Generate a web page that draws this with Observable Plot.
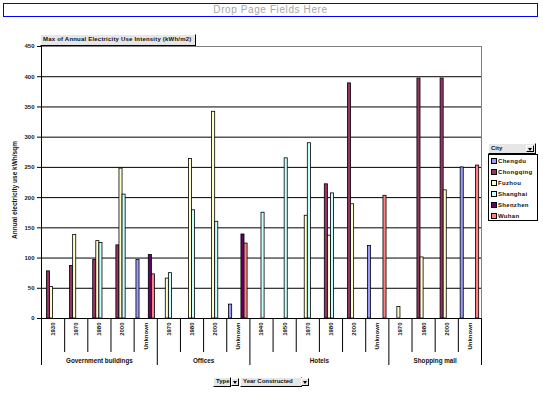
<!DOCTYPE html>
<html>
<head>
<meta charset="utf-8">
<script src="https://cdn.jsdelivr.net/npm/d3@7"></script>
<script src="https://cdn.jsdelivr.net/npm/@observablehq/plot@0.6"></script>
<style>
  html, body { margin: 0; padding: 0; background: #fff; }
  #wrap { position: relative; width: 543px; height: 394px; overflow: hidden; font-family: "Liberation Sans", Arial, sans-serif; }
  #wrap svg { position: absolute; left: 0; top: 0; }
  .abs { position: absolute; box-sizing: border-box; }
  .pagefields { left: 3px; top: 3px; width: 535px; height: 14px; border: 1.5px solid #0000ff; color: #a6a6a6; font-size: 10px; letter-spacing: 0.6px; text-align: center; line-height: 11px; }
  .btn { background: #e6e6e6; border-top: 1px solid #fff; border-left: 1px solid #fff; border-right: 1.5px solid #000; border-bottom: 1.5px solid #000; font-size: 6px; font-weight: bold; color: #111; white-space: nowrap; overflow: hidden; padding-left: 2px; }
  .drop { background: #e6e6e6; border-top: 1px solid #fff; border-left: 1px solid #fff; border-right: 1px solid #000; border-bottom: 1px solid #000; }
  .drop::after { content: ""; position: absolute; left: 50%; top: 50%; margin-left: -2.5px; margin-top: -1px; border-left: 2.5px solid transparent; border-right: 2.5px solid transparent; border-top: 3px solid #000; }
  .legend { left: 488px; top: 154px; width: 50px; height: 67px; border: 1px solid #000; background: #fff; }
  .item { position: absolute; left: 2px; font-size: 6px; font-weight: bold; color: #111; white-space: nowrap; line-height: 7px; letter-spacing: 0.3px; }
  .sw { display: inline-block; width: 4px; height: 4px; border: 1px solid #000; vertical-align: -1px; margin-right: 1px; }
  .ytitle { left: 14px; top: 190px; transform: translate(-50%, -50%) rotate(-90deg); font-size: 6.5px; font-weight: bold; white-space: nowrap; color: #111; }
</style>
</head>
<body>
<div id="wrap"></div>
<script>
// ---- data ----
const types = ["Government buildings", "Offices", "Hotels", "Shopping mall"];
const yearsByType = [
  ["1930", "1970", "1980", "2000", "Unknown"],
  ["1970", "1980", "2000", "Unknown"],
  ["1940", "1950", "1970", "1980", "2000", "Unknown"],
  ["1970", "1980", "2000", "Unknown"]
];
const cities = ["Chengdu", "Chongqing", "Fuzhou", "Shanghai", "Shenzhen", "Wuhan"];
const cityColors = ["#9999FF", "#993366", "#FFFFCC", "#CCFFFF", "#660066", "#FF8080"];
const yTicks = [0, 50, 100, 150, 200, 250, 300, 350, 400, 450];

// values per city, in category order (Type x Year Constructed), null = no bar
const chengdu   = [null, null, null, null,  97,  null, null, null,  23,  null, null, null, null, null, 120,  null, null, null, 250];
const chongqing = [  78,   87,   97,  121, null,  null, null, null, null,  null, null, null,  222,  389, null,  null,  397,  397, null];
const fuzhou    = [  52,  138,  128,  248, null,    66,  264,  342, null,  null, null,  170,  137,  189, null,    19,  101,  212, null];
const shanghai  = [null, null,  125,  205, null,    75,  179,  160, null,   175,  265,  290,  207, null, null,  null, null, null, null];
const shenzhen  = [null, null, null, null,  105,  null, null, null,  139,  null, null, null, null, null, null,  null, null, null, null];
const wuhan     = [null, null, null, null,   73,  null, null, null,  124,  null, null, null, null, null,  203,  null, null, null,  253];
const seriesValues = [chengdu, chongqing, fuzhou, shanghai, shenzhen, wuhan];

// ---- build tables ----
const categories = [];
const groups = [];
yearsByType.forEach((ys, t) => {
  const start = categories.length;
  ys.forEach(y => categories.push({type: types[t], year: y, i: categories.length}));
  groups.push({type: types[t], start, end: categories.length});
});
const nCat = categories.length;
const nCity = cities.length;
const gapBars = 1.5; // Excel gap width 150%
const slots = nCity + gapBars;
const bars = [];
seriesValues.forEach((vals, k) => {
  vals.forEach((v, i) => {
    if (v != null) bars.push({city: cities[k], k, i, value: v});
  });
});
const boundaries = d3.range(nCat + 1);
const groupEdges = [0, ...groups.map(g => g.end)];
const innerEdges = boundaries.filter(b => !groupEdges.includes(b));

const chart = Plot.plot({
  width: 543,
  height: 394,
  marginLeft: 41,
  marginRight: 62,
  marginTop: 46,
  marginBottom: 76,
  style: {fontFamily: "'Liberation Sans', Arial, sans-serif", fontSize: "6px", background: "transparent", overflow: "visible"},
  x: {domain: [0, nCat], axis: null},
  y: {domain: [0, 450], axis: null},
  color: {domain: cities, range: cityColors},
  marks: [
    Plot.ruleY(yTicks.filter(d => d > 0 && d < 450), {stroke: "#000", strokeWidth: 1}),
    Plot.ruleY([450], {stroke: "#808080", strokeWidth: 1}),
    Plot.ruleX([nCat], {stroke: "#808080", strokeWidth: 1}),
    Plot.rectY(bars, {
      x1: d => d.i + (gapBars / 2 + d.k) / slots,
      x2: d => d.i + (gapBars / 2 + d.k + 1) / slots,
      y: "value",
      fill: "city",
      stroke: "#000",
      strokeWidth: 0.8
    }),
    Plot.axisY({ticks: yTicks, tickSize: 4, tickPadding: 3, fontSize: 6, fontWeight: "bold", fill: "#222", stroke: "#000", label: null}),
    Plot.ruleX([0], {y1: 450, y2: 0, stroke: "#000", strokeWidth: 1}),
    Plot.ruleY([0], {stroke: "#000", strokeWidth: 1}),
    Plot.ruleX(innerEdges, {y1: 0, y2: 0, insetBottom: -34, stroke: "#000", strokeWidth: 1}),
    Plot.ruleX(groupEdges, {y1: 0, y2: 0, insetBottom: -47, stroke: "#000", strokeWidth: 1}),
    Plot.text(categories, {
      x: d => d.i + 0.5, y: 0, text: "year", rotate: -90, textAnchor: "end", dy: 4,
      fontSize: 6, fontWeight: "bold", fill: "#111"
    }),
    Plot.text(groups, {
      x: d => (d.start + d.end) / 2, y: 0, text: "type", dy: 42,
      fontSize: 6.3, fontWeight: "bold", fill: "#111", letterSpacing: "0.3px"
    })
  ]
});

const wrap = document.getElementById("wrap");
wrap.appendChild(chart);

function add(cls, style, html) {
  const d = document.createElement("div");
  d.className = "abs " + cls;
  Object.assign(d.style, style);
  if (html != null) d.innerHTML = html;
  wrap.appendChild(d);
  return d;
}
add("pagefields", {}, "Drop Page Fields Here");
add("btn", {left: "40px", top: "34px", width: "156px", height: "12px", lineHeight: "9px", letterSpacing: "0.2px"}, "Max of Annual Electricity Use Intensity (kWh/m2)");
add("ytitle", {}, "Annual electricity use kWh/sqm");
// legend
add("btn", {left: "488px", top: "143px", width: "48px", height: "11px", lineHeight: "8px"}, "City");
add("drop", {left: "526px", top: "145px", width: "8px", height: "7px"});
const leg = add("legend", {});
cities.forEach((c, k) => {
  const it = document.createElement("div");
  it.className = "item";
  it.style.top = (3 + k * 11) + "px";
  it.innerHTML = `<span class="sw" style="background:${cityColors[k]}"></span>${c}`;
  leg.appendChild(it);
});
// bottom field buttons
add("btn", {left: "213px", top: "377px", width: "18px", height: "10px", lineHeight: "7px"}, "Type");
add("drop", {left: "231px", top: "378px", width: "8px", height: "8px"});
add("btn", {left: "240px", top: "377px", width: "62px", height: "10px", lineHeight: "7px"}, "Year Constructed");
add("drop", {left: "301px", top: "378px", width: "8px", height: "8px"});
</script>
</body>
</html>
